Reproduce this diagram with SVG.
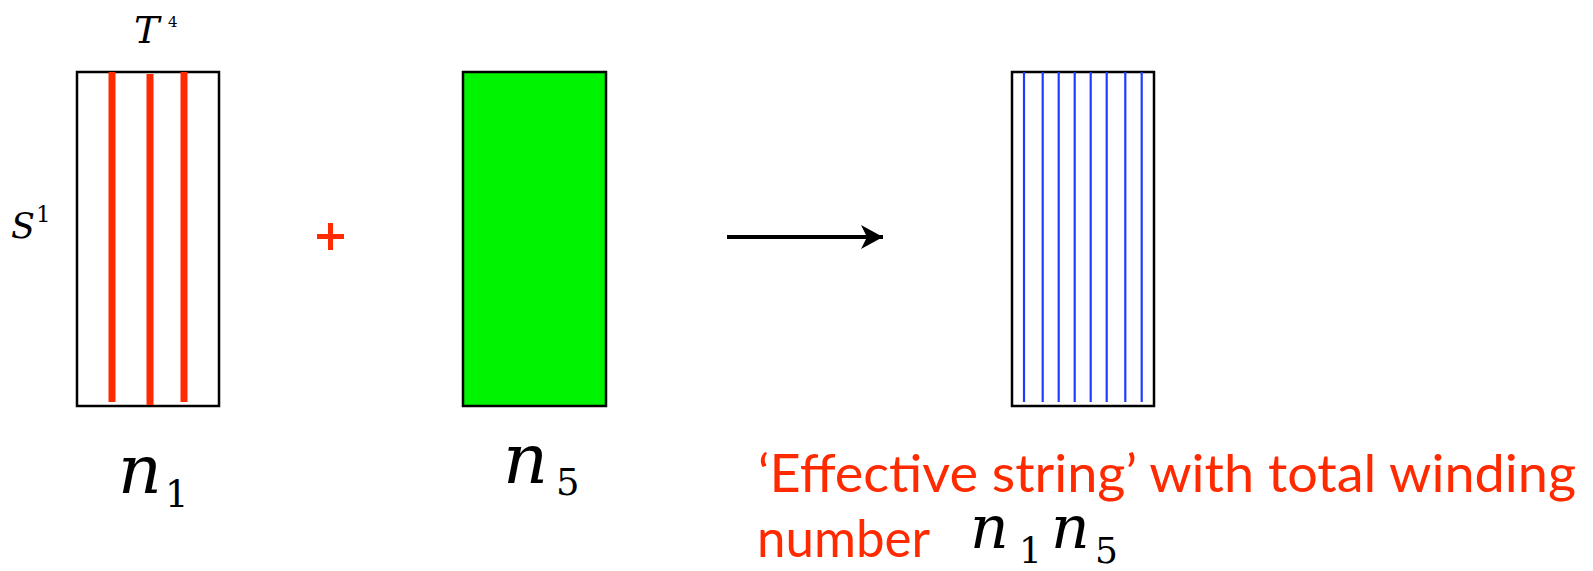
<svg xmlns="http://www.w3.org/2000/svg" width="1593" height="571" viewBox="0 0 1593 571">
<defs>
<style>
.box{fill:#ffffff;stroke:#000;stroke-width:2.5}
.red{stroke:#ff2a00;stroke-width:7}
.blue{stroke:#1e3cff;stroke-width:2.2}
.math{font-family:"DejaVu Serif",serif;font-style:italic;fill:#000}
.num{font-family:"DejaVu Serif",serif;font-style:normal;fill:#000}
.label{font-family:Lato,"Open Sans","Liberation Sans",sans-serif;fill:#ff2a00;font-size:52px}
</style>
<marker id="ah" markerUnits="userSpaceOnUse" markerWidth="26" markerHeight="26" refX="22" refY="12" orient="auto">
<path d="M0,0 L22,12 L0,24 L6,12 Z" fill="#000"/>
</marker>
</defs>
<rect width="1593" height="571" fill="#fff"/>

<g id="labels-axes">
<text class="math" x="134" y="43" font-size="38">T<tspan class="num" x="168" y="27" font-size="15">4</tspan></text>
<text class="math" x="11" y="238" font-size="35">S<tspan class="num" x="36" y="222" font-size="23">1</tspan></text>
</g>

<g id="node-n1">
<rect class="box" x="77" y="72" width="142" height="334"/>
<line class="red" x1="112" y1="72" x2="112" y2="402"/>
<line class="red" x1="150" y1="74" x2="150" y2="405"/>
<line class="red" x1="184" y1="72" x2="184" y2="402"/>
<text class="math" x="118" y="493" font-size="68">n<tspan class="num" x="165" y="507" font-size="37">1</tspan></text>
</g>

<g id="plus">
<rect x="317" y="234" width="27" height="5" fill="#ff2a00"/>
<rect x="328" y="223" width="5" height="27" fill="#ff2a00"/>
</g>

<g id="node-n5">
<rect x="463" y="72" width="143" height="334" fill="#00f300" stroke="#000" stroke-width="2.5"/>
<text class="math" x="503" y="483" font-size="70">n<tspan class="num" x="556" y="495" font-size="37">5</tspan></text>
</g>

<g id="connectors">
<line x1="727" y1="237" x2="883" y2="237" stroke="#000" stroke-width="4" marker-end="url(#ah)"/>
</g>

<g id="node-result">
<rect class="box" x="1012" y="72" width="142" height="334"/>
<line class="blue" x1="1024" y1="72" x2="1024" y2="402"/>
<line class="blue" x1="1042.7" y1="72" x2="1042.7" y2="402"/>
<line class="blue" x1="1058.7" y1="72" x2="1058.7" y2="402"/>
<line class="blue" x1="1074.7" y1="72" x2="1074.7" y2="402"/>
<line class="blue" x1="1090.7" y1="72" x2="1090.7" y2="402"/>
<line class="blue" x1="1106.7" y1="72" x2="1106.7" y2="402"/>
<line class="blue" x1="1125.3" y1="72" x2="1125.3" y2="402"/>
<line class="blue" x1="1141.7" y1="72" x2="1141.7" y2="402"/>
</g>

<g id="caption">
<text class="label" x="758" y="492" textLength="818" lengthAdjust="spacingAndGlyphs">‘Effective string’ with total winding</text>
<text class="label" x="757" y="557" textLength="173" lengthAdjust="spacingAndGlyphs">number</text>
<text class="math" x="970" y="548" font-size="60">n<tspan class="num" x="1019" y="563" font-size="36">1</tspan><tspan x="1051" y="548">n</tspan><tspan class="num" x="1095" y="563" font-size="36">5</tspan></text>
</g>
</svg>
